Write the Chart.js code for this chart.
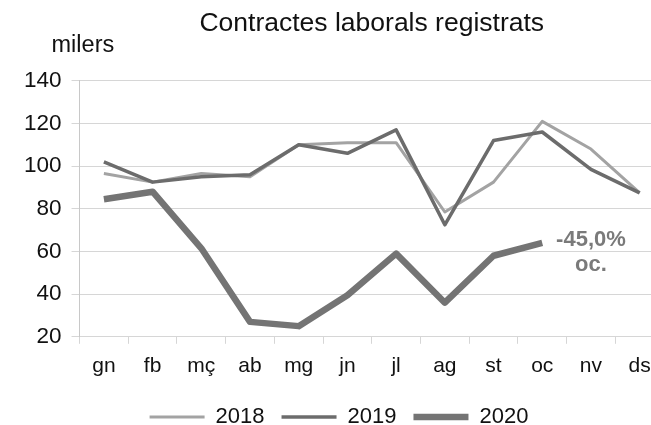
<!DOCTYPE html>
<html>
<head>
<meta charset="utf-8">
<script src="https://cdn.jsdelivr.net/npm/chart.js@4.4.1/dist/chart.umd.min.js"></script>
<style>
  html, body { margin: 0; padding: 0; background: #fff; overflow: hidden; }
  #wrap { width: 651px; height: 425px; overflow: hidden; position: relative; }
  canvas { display: block; }
</style>
</head>
<body>
<div id="wrap"><canvas id="c" width="680" height="438"></canvas></div>
<script>
const months = ['gn','fb','mç','ab','mg','jn','jl','ag','st','oc','nv','ds'];
const values2018 = [96.5, 92.5, 96.5, 95, 110, 111, 111, 78.5, 92.5, 121, 108, 87.5];
const values2019 = [102, 92.5, 95, 96, 110, 106, 117, 72.5, 112, 116, 98.5, 87.5];
const values2020 = [84.5, 88, 61.5, 27, 25, 39.5, 59, 36, 58, 64, null, null];
const yTicks = [20, 40, 60, 80, 100, 120, 140];
const chartTitle = 'Contractes laborals registrats';
const unitLabel = 'milers';
const noteLines = ['-45,0%', 'oc.'];
const noteAtIndex = 9;

const FONT = '"Liberation Sans", Arial, sans-serif';
const GRID = '#d6d6d6';

const extras = {
  id: 'extras',
  afterDatasetsDraw(chart) {
    const ctx = chart.ctx;
    const xs = chart.scales.x, ys = chart.scales.y;
    const ca = chart.chartArea;
    ctx.save();
    // unit label
    ctx.fillStyle = '#111';
    ctx.font = '23.5px ' + FONT;
    ctx.textAlign = 'left';
    ctx.textBaseline = 'alphabetic';
    ctx.fillText(unitLabel, ca.left - 28, ca.top - 29);
    // annotation next to last 2020 point
    const px = xs.getPixelForValue(noteAtIndex + 1);
    const py = ys.getPixelForValue(values2020[noteAtIndex]);
    ctx.fillStyle = '#7a7a7a';
    ctx.font = 'bold 22px ' + FONT;
    ctx.textAlign = 'center';
    ctx.fillText(noteLines[0], px, py + 3);
    ctx.fillText(noteLines[1], px, py + 28);
    ctx.restore();
  }
};

new Chart(document.getElementById('c'), {
  type: 'line',
  data: {
    labels: months,
    datasets: [
      { label: '2018', data: values2018, borderColor: '#a3a3a3', backgroundColor: '#a3a3a3', borderWidth: 3, order: 3 },
      { label: '2019', data: values2019, borderColor: '#6c6c6c', backgroundColor: '#6c6c6c', borderWidth: 3.5, order: 2 },
      { label: '2020', data: values2020, borderColor: '#747474', backgroundColor: '#747474', borderWidth: 6.5, order: 1 }
    ]
  },
  options: {
    responsive: false,
    animation: false,
    devicePixelRatio: 1,
    layout: { padding: { left: 14, right: 16, top: 0, bottom: 0 } },
    elements: {
      point: { radius: 0, hoverRadius: 0 },
      line: { tension: 0, borderJoinStyle: 'round', borderCapStyle: 'butt' }
    },
    scales: {
      x: {
        offset: true,
        grid: { offset: true, drawOnChartArea: false, drawTicks: true, tickLength: 7, color: GRID },
        border: { display: true, color: GRID, width: 1 },
        ticks: { color: '#111', font: { family: FONT, size: 21 }, padding: 10, maxRotation: 0, autoSkip: false }
      },
      y: {
        min: 20, max: 140,
        afterBuildTicks(scale) { scale.ticks = yTicks.map(v => ({ value: v })); },
        grid: { color: GRID, tickLength: 8, drawTicks: true },
        border: { display: true, color: '#c8c8c8', width: 1 },
        ticks: { color: '#111', font: { family: FONT, size: 22.5 }, padding: 10 }
      }
    },
    plugins: {
      title: {
        display: true, text: chartTitle, fullSize: false, color: '#111',
        font: { family: FONT, size: 26.5, weight: 'normal' },
        padding: { top: 8, bottom: 41 }
      },
      legend: {
        position: 'bottom',
        labels: {
          usePointStyle: true, pointStyle: 'line', pointStyleWidth: 55, boxHeight: 8,
          color: '#111', font: { family: FONT, size: 22 }, padding: 17,
          sort: (a, b) => a.datasetIndex - b.datasetIndex
        }
      },
      tooltip: { enabled: false }
    }
  },
  plugins: [extras]
});
</script>
</body>
</html>
